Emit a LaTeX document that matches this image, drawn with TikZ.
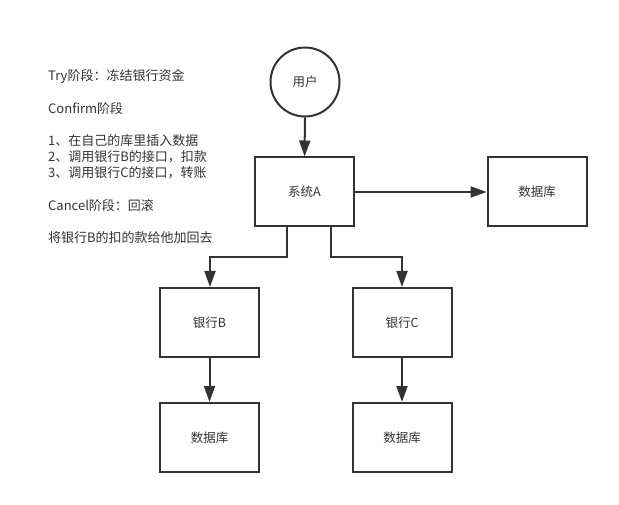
\documentclass[tikz,border=0pt]{standalone}
\usepackage{fontspec}
\setmainfont{Noto Sans CJK SC}
\usetikzlibrary{arrows.meta}
\definecolor{ink}{HTML}{333333}
\tikzset{
  box/.style={draw=ink, line width=2pt, minimum width=99pt, minimum height=69pt, inner sep=0pt, text=ink, font=\fontsize{12.5}{14}\selectfont},
  circ/.style={draw=ink, line width=2pt, circle, minimum size=69pt, inner sep=0pt, text=ink, font=\fontsize{12.5}{14}\selectfont},
  conn/.style={draw=ink, line width=2pt, -{Triangle[length=16pt,width=11pt]}},
  note/.style={anchor=west, inner sep=0pt, text=ink, font=\fontsize{13}{15}\selectfont}
}
\begin{document}
\begin{tikzpicture}[x=1pt,y=-1pt]
\useasboundingbox (0,0) rectangle (619,505);
\node[circ] (user) at (305,82) {用户};
\node[box] (sysA) at (304.5,192) {系统A};
\node[box] (db1) at (537,192) {数据库};
\node[box] (bankB) at (209.5,322.5) {银行B};
\node[box] (bankC) at (402,322.5) {银行C};
\node[box] (db2) at (209.5,437.5) {数据库};
\node[box] (db3) at (402,437.5) {数据库};
\coordinate (jb1) at (287,257);
\coordinate (jb2) at (210,257);
\coordinate (jc1) at (331,257);
\coordinate (jc2) at (402,257);
\draw[conn] (user) -- (sysA);
\draw[conn] (sysA) -- (db1);
\draw[conn] (sysA.south -| jb1) -- (jb1) -- (jb2) -- (bankB.north -| jb2);
\draw[conn] (sysA.south -| jc1) -- (jc1) -- (jc2) -- (bankC.north -| jc2);
\draw[conn] (bankB) -- (db2);
\draw[conn] (bankC) -- (db3);
\node[note] (t1) at (48,77) {Try阶段：冻结银行资金};
\node[note] (t2) at (48,109) {Confirm阶段};
\node[note] (t3) at (48,141) {1、在自己的库里插入数据};
\node[note] (t4) at (48,157) {2、调用银行B的接口，扣款};
\node[note] (t5) at (48,173) {3、调用银行C的接口，转账};
\node[note] (t6) at (48,206) {Cancel阶段：回滚};
\node[note] (t7) at (48,238) {将银行B的扣的款给他加回去};
\end{tikzpicture}
\end{document}
